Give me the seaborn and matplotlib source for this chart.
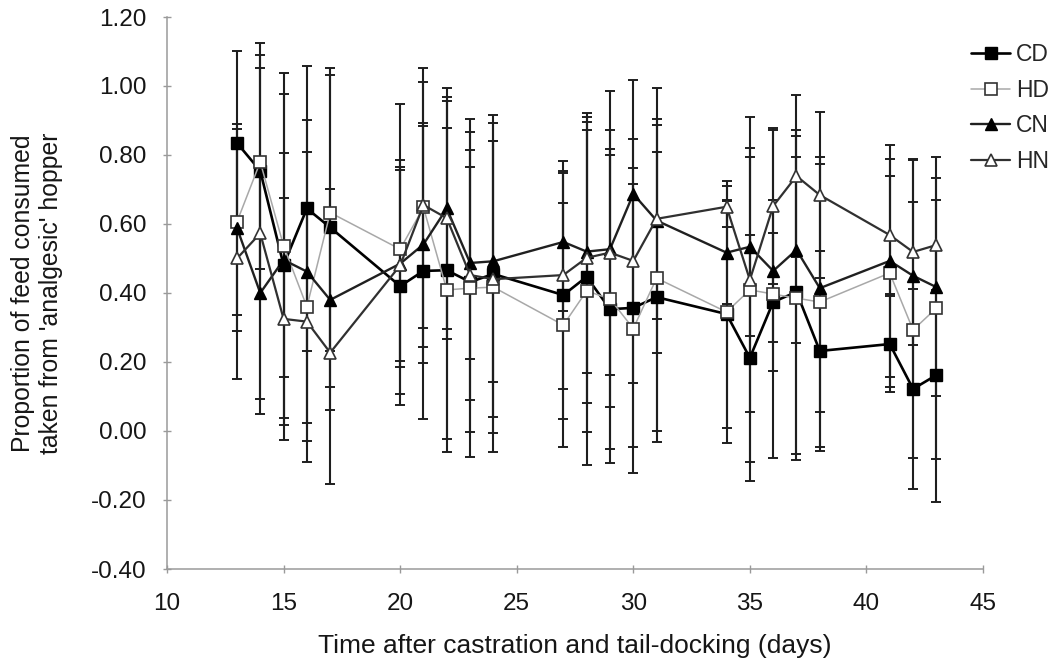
import numpy as np
import pandas as pd
import matplotlib
matplotlib.use("Agg")
import matplotlib.pyplot as plt
import seaborn as sns

# Days after castration and tail-docking on which feed intake was recorded
days = [13, 14, 15, 16, 17, 20, 21, 22, 23, 24, 27, 28, 29, 30, 31,
        34, 35, 36, 37, 38, 41, 42, 43]

# Mean proportion of feed taken from the 'analgesic' hopper
cd_mean = [0.835, 0.754, 0.481, 0.645, 0.590, 0.420, 0.464, 0.466, 0.432, 0.455, 0.394, 0.447,
           0.353, 0.357, 0.388, 0.339, 0.212, 0.374, 0.403, 0.232, 0.252, 0.122, 0.162]
hd_mean = [0.606, 0.780, 0.537, 0.360, 0.633, 0.527, 0.648, 0.409, 0.414, 0.417, 0.307, 0.406,
           0.383, 0.297, 0.443, 0.345, 0.409, 0.397, 0.385, 0.374, 0.458, 0.293, 0.356]
cn_mean = [0.589, 0.400, 0.496, 0.462, 0.380, 0.485, 0.541, 0.645, 0.487, 0.492, 0.548, 0.520,
           0.527, 0.687, 0.610, 0.517, 0.534, 0.464, 0.525, 0.414, 0.493, 0.450, 0.417]
hn_mean = [0.500, 0.573, 0.325, 0.317, 0.227, 0.480, 0.655, 0.617, 0.452, 0.440, 0.452, 0.502,
           0.517, 0.493, 0.615, 0.650, 0.438, 0.652, 0.739, 0.684, 0.568, 0.519, 0.539]

# Error bar half-widths
cd_err = [0.265, 0.370, 0.325, 0.413, 0.463, 0.344, 0.430, 0.490, 0.434, 0.460, 0.360, 0.450,
          0.447, 0.404, 0.421, 0.330, 0.356, 0.200, 0.470, 0.290, 0.140, 0.290, 0.368]
hd_err = [0.270, 0.310, 0.500, 0.450, 0.400, 0.420, 0.405, 0.470, 0.490, 0.477, 0.353, 0.505,
          0.435, 0.420, 0.444, 0.380, 0.500, 0.475, 0.470, 0.420, 0.330, 0.370, 0.437]
cn_err = [0.300, 0.350, 0.480, 0.440, 0.320, 0.300, 0.343, 0.350, 0.277, 0.350, 0.200, 0.352,
          0.458, 0.330, 0.383, 0.150, 0.260, 0.206, 0.270, 0.360, 0.336, 0.335, 0.317]
hn_err = [0.350, 0.480, 0.350, 0.345, 0.380, 0.276, 0.357, 0.350, 0.362, 0.400, 0.330, 0.420,
          0.355, 0.354, 0.290, 0.060, 0.382, 0.225, 0.235, 0.240, 0.170, 0.270, 0.130]

groups = ["CD", "HD", "CN", "HN"]
means = [cd_mean, hd_mean, cn_mean, hn_mean]
errs = [cd_err, hd_err, cn_err, hn_err]

y_ticks = [-0.40, -0.20, 0.00, 0.20, 0.40, 0.60, 0.80, 1.00, 1.20]
x_ticks = [10, 15, 20, 25, 30, 35, 40, 45]

sns.set_style("white")
plt.rcParams["font.family"] = ["Liberation Sans", "DejaVu Sans"]

styles = {
    "CD": dict(color="black", lw=1.9, marker="s", ms=8.2, mfc="black", mec="black", mew=1.0),
    "HD": dict(color="#a8a8a8", lw=1.1, marker="s", ms=8.2, mfc="white", mec="#333333", mew=1.2),
    "CN": dict(color="#202020", lw=1.7, marker="^", ms=8.8, mfc="black", mec="black", mew=1.0),
    "HN": dict(color="#303030", lw=1.6, marker="^", ms=8.8, mfc="white", mec="#333333", mew=1.2),
}

fig = plt.figure(figsize=(10.58, 6.60), dpi=100)
ax = fig.add_axes([167 / 1058, 1 - 569 / 660, (983 - 167) / 1058, (569 - 17) / 660])

for g, m, e in zip(groups, means, errs):
    ax.errorbar(days, m, yerr=e, fmt="none", ecolor="#1e1e1e", elinewidth=1.5,
                capsize=3.4, capthick=1.4, zorder=2)

for g, m in zip(groups, means):
    df = pd.DataFrame({"day": days, "prop": m})
    st = styles[g]
    sns.lineplot(data=df, x="day", y="prop", ax=ax, errorbar=None, label=g,
                 color=st["color"], linewidth=st["lw"], marker=st["marker"],
                 markersize=st["ms"], markerfacecolor=st["mfc"],
                 markeredgecolor=st["mec"], markeredgewidth=st["mew"], zorder=3)

ax.set_xlim(10, 45)
ax.set_ylim(-0.40, 1.20)
ax.set_xticks(x_ticks)
ax.set_yticks(y_ticks)
ax.set_yticklabels([f"{v:.2f}" for v in y_ticks])
ax.tick_params(axis="both", labelsize=17.5, colors="#9a9a9a", labelcolor="#161616",
               direction="inout", length=6, width=1, left=True, bottom=True)
ax.tick_params(axis="y", pad=12)
ax.tick_params(axis="x", pad=14)

for side in ["top", "right"]:
    ax.spines[side].set_visible(False)
for side in ["left", "bottom"]:
    ax.spines[side].set_color("#9a9a9a")
    ax.spines[side].set_linewidth(1.1)

ax.set_xlabel("Time after castration and tail-docking (days)", fontsize=19,
              color="#161616", labelpad=14)
ax.set_ylabel("Proportion of feed consumed\ntaken from 'analgesic' hopper", fontsize=17.8,
              color="#161616", labelpad=20, linespacing=1.2)

ax.legend(loc="upper left", bbox_to_anchor=(962 / 1058, 1 - 34 / 660),
          bbox_transform=fig.transFigure, frameon=False, fontsize=16.5,
          handlelength=1.7, handletextpad=0.25, labelspacing=0.55, borderaxespad=0)

fig.savefig("out.png", dpi=100)
